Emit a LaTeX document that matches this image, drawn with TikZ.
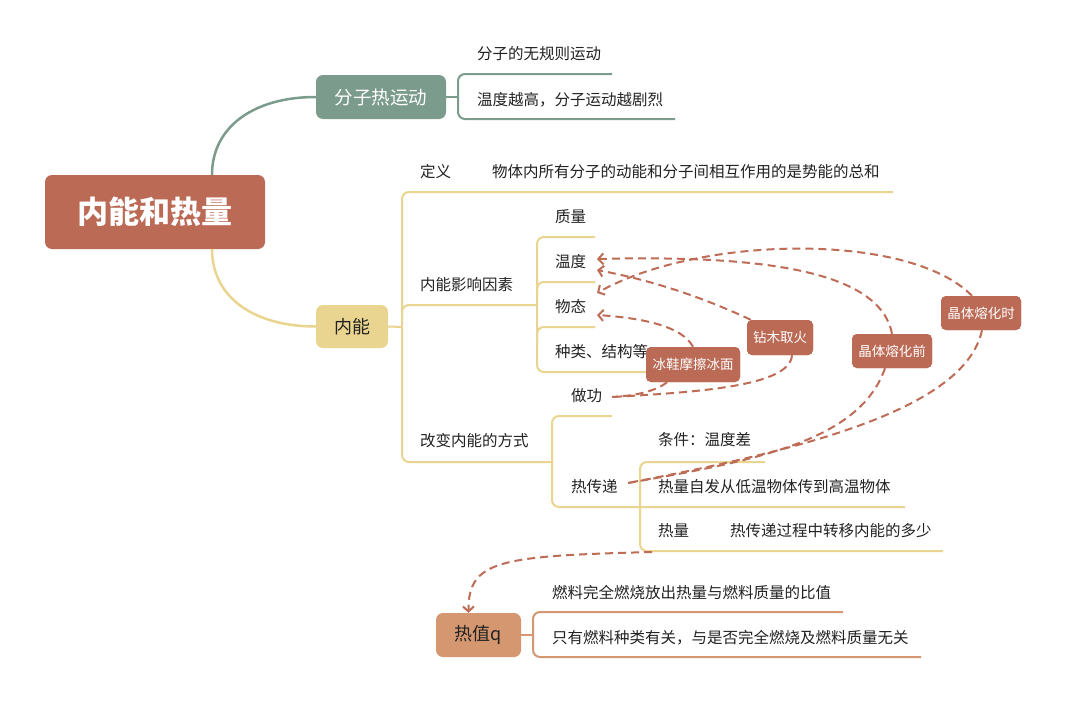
\documentclass[tikz,border=0pt]{standalone}
\usepackage{fontspec}
\setmainfont{Noto Sans CJK SC}
\usetikzlibrary{arrows.meta,calc}
\definecolor{rootc}{HTML}{BB6A55}
\definecolor{greenc}{HTML}{7B9B8C}
\definecolor{yellowc}{HTML}{E9D58F}
\definecolor{tanc}{HTML}{D4976F}
\definecolor{dashc}{HTML}{BE6C56}
\definecolor{txtc}{HTML}{222222}
\newcommand\midfork[4]{% style, x, y, xend
  \draw[#1, rounded corners=7pt] (#2,#3+14) -- (#2,#3) -- (#4,#3);}
\begin{document}
\begin{tikzpicture}[x=1pt,y=-1pt,
  boxbase/.style={rounded corners=7pt, inner sep=0pt, align=center},
  rootbox/.style={boxbase, fill=rootc, text=white, minimum width=220pt, minimum height=74pt, font=\fontsize{31}{36}\selectfont\bfseries},
  fsstyle/.style={boxbase, fill=greenc, text=white, minimum width=130pt, minimum height=44pt, font=\fontsize{18.5}{22}\selectfont},
  nnstyle/.style={boxbase, fill=yellowc, text=txtc, minimum width=72pt, minimum height=43pt, font=\fontsize{18}{22}\selectfont},
  rzstyle/.style={boxbase, fill=tanc, text=txtc, minimum width=85pt, minimum height=44pt, font=\fontsize{18}{22}\selectfont},
  tagbox/.style={rounded corners=5pt, inner sep=0pt, fill=rootc, text=white, minimum height=35pt, font=\fontsize{13.5}{16}\selectfont},
  txt/.style={anchor=west, inner sep=0pt, text=txtc, font=\fontsize{15.5}{18}\selectfont},
  gline/.style={draw=greenc, line width=2pt},
  yline/.style={draw=yellowc, line width=2pt},
  tline/.style={draw=tanc, line width=2pt},
  dline/.style={draw=dashc, line width=2pt, dash pattern=on 8pt off 5pt},
  darrow/.style={dline, -{Straight Barb[length=5pt,width=11pt,line width=2pt]}}
]
\useasboundingbox[fill=white] (0,0) rectangle (1080,707);

% ---------- main boxes ----------
\node[rootbox] (root) at (155,212) {内能和热量};
\node[fsstyle] (fsbox) at (381,97) {分子热运动};
\node[nnstyle] (nnbox) at (352,326.5) {内能};
\node[rzstyle] (rzbox) at (478.5,635) {热值q};

% ---------- root connectors ----------
\draw[gline, line width=2.5pt] ([xshift=57pt]root.north) .. controls +(0,-48) and +(-62,0) .. (fsbox.west);
\draw[yline, line width=2.5pt] ([xshift=57pt]root.south) .. controls +(0,48) and +(-62,0) .. (nnbox.west);

% ---------- 分子热运动 ----------
\coordinate (fsj) at (458,97);
\draw[gline] (fsbox.east) -- (fsj);
\draw[gline, rounded corners=7pt] (612,74) -- (458,74) -- (458,119) -- (675,119);
\node[txt] (fs1) at (477,54) {分子的无规则运动};
\node[txt] (fs2) at (477,100) {温度越高，分子运动越剧烈};

% ---------- 内能 ----------
\coordinate (nnj) at (402,327);
\draw[yline] (nnbox.east) -- (nnj);
\draw[yline, rounded corners=7pt] (893,192) -- (402,192) -- (402,462) -- (552,462);
\midfork{yline}{402}{305}{537}
\node[txt] (dy) at (420,172) {定义};
\node[txt] (dyc) at (492,172) {物体内所有分子的动能和分子间相互作用的是势能的总和};
\node[txt] (yx) at (420,285) {内能影响因素};
\node[txt] (gb) at (420,441) {改变内能的方式};

% factors
\draw[yline, rounded corners=7pt] (595,237) -- (537,237) -- (537,372) -- (660,372);
\midfork{yline}{537}{282}{595}
\midfork{yline}{537}{327}{595}
\node[txt] (zl) at (555,217) {质量};
\node[txt] (wd) at (555,262) {温度};
\node[txt] (wt) at (555,307) {物态};
\node[txt] (zlj) at (555,352) {种类、结构等};

% ways
\draw[yline, rounded corners=7pt] (612,416) -- (552,416) -- (552,507) -- (905,507);
\node[txt] (zg) at (571,396) {做功};
\node[txt] (rcd) at (571,487) {热传递};

\draw[yline, rounded corners=7pt] (765,462) -- (640,462) -- (640,551) -- (943,551);
\node[txt] (tj) at (658,440) {条件：温度差};
\node[txt] (rz1) at (658,487) {热量自发从低温物体传到高温物体};
\node[txt] (rl) at (658,531) {热量};
\node[txt] (rlc) at (730,531) {热传递过程中转移内能的多少};

% ---------- 热值q ----------
\coordinate (rzj) at (533,635);
\draw[tline] (rzbox.east) -- (rzj);
\draw[tline, rounded corners=7pt] (843,612) -- (533,612) -- (533,657) -- (921,657);
\node[txt] (rq1) at (552,593) {燃料完全燃烧放出热量与燃料质量的比值};
\node[txt] (rq2) at (552,638) {只有燃料种类有关，与是否完全燃烧及燃料质量无关};

% ---------- tag boxes ----------
\node[tagbox, minimum width=94pt] (bx) at (693,364.5) {冰鞋摩擦冰面};
\node[tagbox, minimum width=66pt] (zm) at (780,337.5) {钻木取火};
\node[tagbox, minimum width=80pt, minimum height=34pt] (jq) at (892,351) {晶体熔化前};
\node[tagbox, minimum width=80pt, minimum height=34pt] (js) at (981,313) {晶体熔化时};

% arrow end points
\coordinate (wdA) at (597,259);
\coordinate (wdB) at (597,270);
\coordinate (wtA) at (597,293);
\coordinate (wtB) at (597,315);
\coordinate (zgE) at (612,397);
\coordinate (rcdE) at (628,483);
\coordinate (rlE) at (652,552);

% ---------- dashed relations ----------
\draw[darrow] (jq.north) .. controls (880,270) and (760,255) .. (wdA);
\draw[darrow] ([xshift=-9pt]js.north) .. controls (910,232) and (700,235) .. (wtA);
\draw[darrow] ([xshift=4pt]zm.north west) .. controls (700,296) and (650,280) .. (wdB);
\draw[darrow] (bx.north) .. controls (682,326) and (642,318) .. (wtB);
\draw[dline] ([xshift=-26pt]bx.south) .. controls (655,392) and (632,396) .. (zgE);
\draw[dline] ([xshift=12pt]zm.south) .. controls (790,386) and (700,392) .. (zgE);
\draw[dline] ([xshift=-7pt]jq.south) .. controls (860,440) and (760,460) .. (rcdE);
\draw[dline] ([xshift=1pt]js.south) .. controls (965,410) and (800,450) .. (rcdE);
\draw[darrow] (rlE) .. controls (500,556) and (468,560) .. ([xshift=-10pt]rzbox.north);

% redraw tag boxes on top
\node[tagbox, minimum width=94pt] at (bx) {冰鞋摩擦冰面};
\node[tagbox, minimum width=66pt] at (zm) {钻木取火};
\node[tagbox, minimum width=80pt, minimum height=34pt] at (jq) {晶体熔化前};
\node[tagbox, minimum width=80pt, minimum height=34pt] at (js) {晶体熔化时};
\end{tikzpicture}
\end{document}
